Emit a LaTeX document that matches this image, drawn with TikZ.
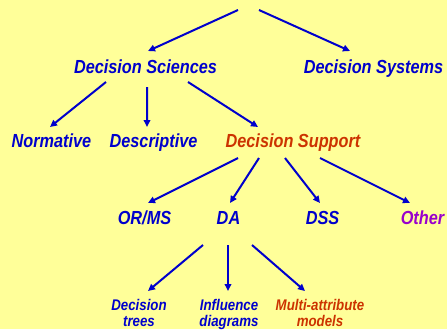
\documentclass[tikz,border=0pt]{standalone}
\usepackage{fontspec}
\setmainfont{Liberation Sans}[FakeStretch=0.86]
\usetikzlibrary{arrows.meta}
\definecolor{bgyellow}{HTML}{FFFF99}
\definecolor{dsblue}{HTML}{0000CC}
\definecolor{dsorange}{HTML}{CC3300}
\definecolor{dspurple}{HTML}{9900CC}

\begin{document}
\begin{tikzpicture}[x=1bp, y=-1bp,
  lbl/.style={anchor=base, inner sep=0pt, text=dsblue,
    font=\fontsize{19}{21}\selectfont\bfseries\itshape},
  leaf/.style={lbl, align=center,
    font=\fontsize{15.5}{16.5}\selectfont\bfseries\itshape},
  arr/.style={dsblue, line width=2bp, -{Triangle[length=7bp, width=6.5bp]}}]

% Background
\fill[bgyellow] (0,0) rectangle (447,329);
\useasboundingbox (0,0) rectangle (447,329);

% Define nodes
\coordinate (topL) at (238,10);
\coordinate (topR) at (259,10);
\path
(145.5,73.5) node[lbl] (dsci) {Decision Sciences}
(373.5,73.5) node[lbl] (dsys) {Decision Systems}
(51.5,147) node[lbl] (norm) {Normative}
(153.5,147) node[lbl] (desc) {Descriptive}
(293,147) node[lbl, text=dsorange] (dsup) {Decision Support}
(144.5,224) node[lbl] (orms) {OR/MS}
(228.5,224) node[lbl] (da) {DA}
(322.5,224) node[lbl] (dss) {DSS}
(422.5,224) node[lbl, text=dspurple] (other) {Other}
% two-line labels: base is the lower line
(139,326.5) node[leaf] (dtree) {Decision\\trees}
(229,326.5) node[leaf] (infl) {Influence\\diagrams}
(320,326.5) node[leaf, text=dsorange] (mattr) {Multi-attribute\\models}
;

% Arrows
\begin{scope}[every path/.style={arr}]
\draw (topL) -- ([shift={(2.5,-22.5)}]dsci.base);
\draw (topR) -- ([shift={(-23.5,-22.5)}]dsys.base);

\draw ([shift={(-39.5,8.5)}]dsci.base) -- ([shift={(-1.5,-20)}]norm.base);
\draw ([shift={(1.5,13.5)}]dsci.base) -- ([shift={(-6.5,-20)}]desc.base);
\draw ([shift={(42.5,8.5)}]dsci.base) -- ([shift={(-35,-20)}]dsup.base);

\draw ([shift={(-55,11)}]dsup.base) -- ([shift={(3.5,-21)}]orms.base);
\draw ([shift={(-34,11)}]dsup.base) -- ([shift={(1.5,-21)}]da.base);
\draw ([shift={(-8,11)}]dsup.base) -- ([shift={(-2.5,-21)}]dss.base);
\draw ([shift={(27,11)}]dsup.base) -- ([shift={(-12.5,-21)}]other.base);

\draw ([shift={(-25.5,21)}]da.base) -- ([shift={(9,-35.5)}]dtree.base);
\draw ([shift={(-0.5,21)}]da.base) -- ([shift={(-1,-35.5)}]infl.base);
\draw ([shift={(23.5,21)}]da.base) -- ([shift={(-15,-35.5)}]mattr.base);
\end{scope}

\end{tikzpicture}
\end{document}
